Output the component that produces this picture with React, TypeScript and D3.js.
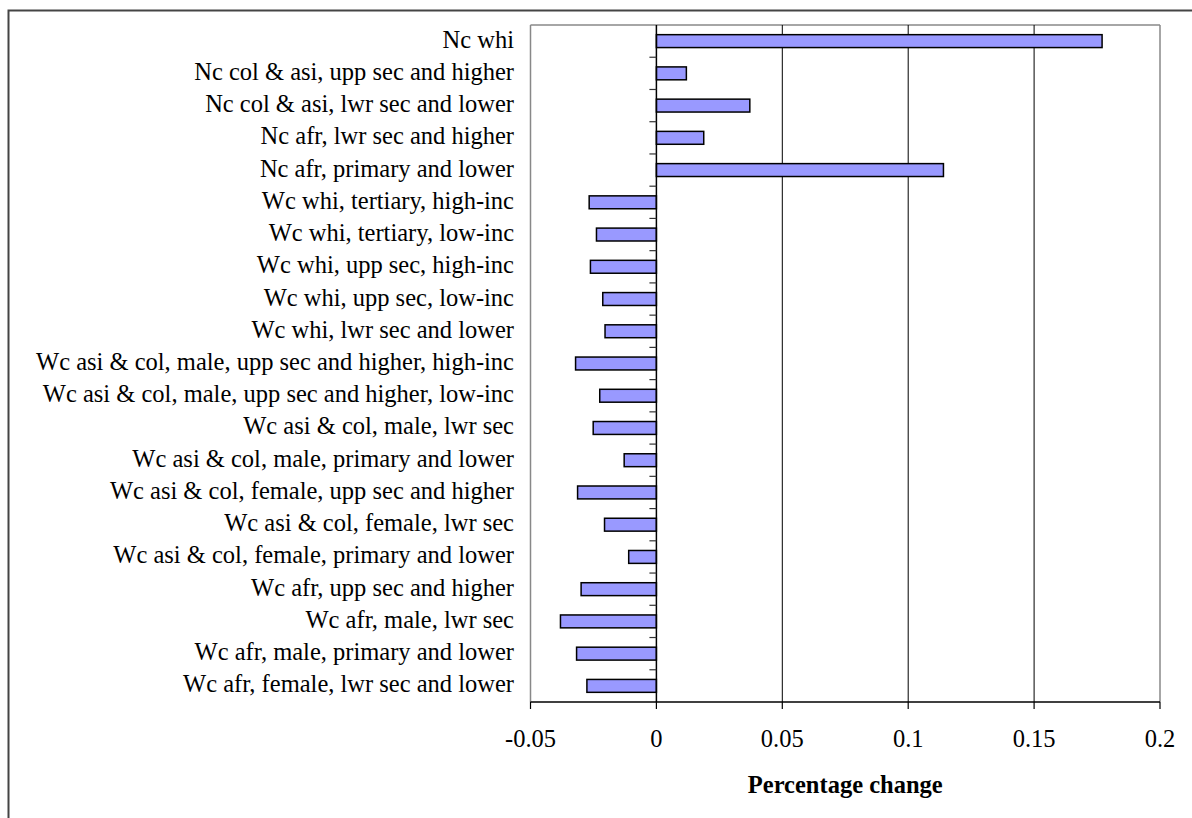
import React from "react";
import * as d3 from "d3";

const categories = [
  "Nc whi",
  "Nc col & asi, upp sec and higher",
  "Nc col & asi, lwr sec and lower",
  "Nc afr, lwr sec and higher",
  "Nc afr, primary and lower",
  "Wc whi, tertiary, high-inc",
  "Wc whi, tertiary, low-inc",
  "Wc whi, upp sec, high-inc",
  "Wc whi, upp sec, low-inc",
  "Wc whi, lwr sec and lower",
  "Wc asi & col, male, upp sec and higher, high-inc",
  "Wc asi & col, male, upp sec and higher, low-inc",
  "Wc asi & col, male, lwr sec",
  "Wc asi & col, male, primary and lower",
  "Wc asi & col, female, upp sec and higher",
  "Wc asi & col, female, lwr sec",
  "Wc asi & col, female, primary and lower",
  "Wc afr, upp sec and higher",
  "Wc afr, male, lwr sec",
  "Wc afr, male, primary and lower",
  "Wc afr, female, lwr sec and lower",
];

const values = [
  0.177, 0.0119, 0.0371, 0.0188, 0.114,
  -0.0267, -0.0238, -0.0262, -0.0213, -0.0204,
  -0.0321, -0.0225, -0.0251, -0.0128, -0.0313,
  -0.0206, -0.011, -0.0299, -0.0381, -0.0317, -0.0276,
];

const xTicks = [-0.05, 0, 0.05, 0.1, 0.15, 0.2];
const xTickLabels = ["-0.05", "0", "0.05", "0.1", "0.15", "0.2"];
const xTitle = "Percentage change";

export default function App() {
  const W = 1192, H = 818;
  const left = 530.5, right = 1160, top = 25, bottom = 702;
  const x = d3.scaleLinear().domain([-0.05, 0.2]).range([left, right]);
  const y = d3.scaleBand().domain(categories).range([top, bottom]).paddingInner(0.6).paddingOuter(0.3);
  const yb = d3.scaleBand().domain(categories).range([top, bottom]);
  const font = "'Liberation Serif', 'Times New Roman', serif";
  const fs = 24.5;
  const x0 = x(0);
  return (
    <svg width={W} height={H} style={{ position: "absolute", left: 0, top: 0 }}>
      <rect x={0} y={0} width={W} height={H} fill="#fff" />
      <rect x={8.5} y={10.5} width={W + 20} height={H + 20} fill="none" stroke="#444" strokeWidth={2} />
      {/* plot area border */}
      <line x1={left} x2={left} y1={top} y2={bottom} stroke="#888" strokeWidth={1.5} />
      <line x1={left} x2={right} y1={top} y2={top} stroke="#888" strokeWidth={1.5} />
      <line x1={right} x2={right} y1={top} y2={bottom} stroke="#888" strokeWidth={1.5} />
      {/* grid lines */}
      {xTicks.filter((t) => t > 0 && t < 0.2).map((t) => (
        <line key={t} x1={x(t)} x2={x(t)} y1={top} y2={bottom} stroke="#000" strokeWidth={1} />
      ))}
      {/* bars */}
      {values.map((v, i) => (
        <rect
          key={i}
          x={Math.min(x(v), x0)}
          y={y(categories[i])!}
          width={Math.abs(x(v) - x0)}
          height={y.bandwidth()}
          fill="#9999FF"
          stroke="#000"
          strokeWidth={1.5}
        />
      ))}
      {/* y axis at zero */}
      <line x1={x0} x2={x0} y1={top} y2={bottom} stroke="#000" strokeWidth={1.5} />
      {categories.slice(1).map((c) => (
        <line key={c} x1={x0 - 7} x2={x0} y1={yb(c)!} y2={yb(c)!} stroke="#333" strokeWidth={1.2} />
      ))}
      {/* x axis */}
      <line x1={left} x2={right} y1={bottom} y2={bottom} stroke="#000" strokeWidth={1.5} />
      {xTicks.map((t) => (
        <line key={t} x1={x(t)} x2={x(t)} y1={bottom} y2={bottom + 7} stroke="#000" strokeWidth={1.2} />
      ))}
      {xTicks.map((t, i) => (
        <text key={t} x={x(t)} y={747} textAnchor="middle" fontFamily={font} fontSize={fs} fill="#000">
          {xTickLabels[i]}
        </text>
      ))}
      <text x={(left + right) / 2} y={793} textAnchor="middle" fontFamily={font} fontSize={fs} fontWeight="bold" fill="#000">
        {xTitle}
      </text>
      {/* category labels */}
      {categories.map((c) => (
        <text key={c} x={514} y={yb(c)! + yb.bandwidth() / 2 + 6.5} textAnchor="end" fontFamily={font} fontSize={fs} fill="#000">
          {c}
        </text>
      ))}
    </svg>
  );
}
